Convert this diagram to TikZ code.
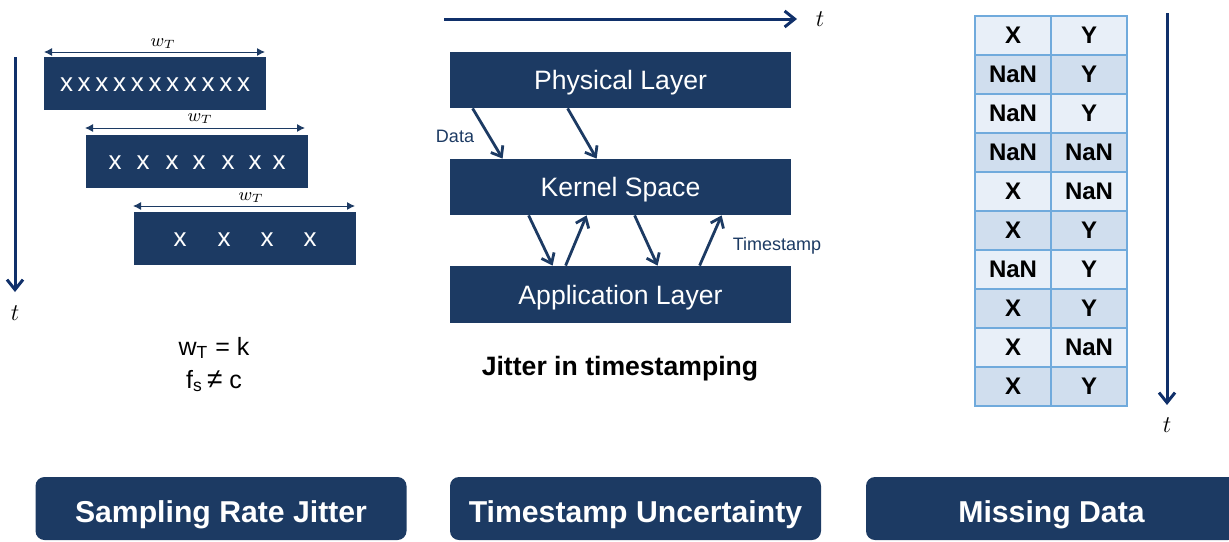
\documentclass[tikz,border=0pt]{standalone}
\usepackage{fontspec}
\setmainfont{Liberation Sans}
\usetikzlibrary{arrows.meta,calc}
\definecolor{navy}{HTML}{1C3A63}
\definecolor{axisnavy}{HTML}{10306A}
\definecolor{celllight}{HTML}{E8EFF8}
\definecolor{celldark}{HTML}{D0DEEE}
\definecolor{cellline}{HTML}{70AADC}
\tikzset{
  navybox/.style={fill=navy, draw=none, inner sep=0pt, text=white},
  layerbox/.style={navybox, minimum width=170.5pt, minimum height=28pt, text height=9.5pt, text depth=0pt, font=\fontsize{13.3}{15}\selectfont},
  samplebox/.style={navybox, minimum width=111pt, minimum height=26.5pt},
  xmark/.style={text=white, inner sep=0pt, font=\fontsize{13}{14}\selectfont},
  wtarrow/.style={navy, line width=0.5pt, {Latex[length=4pt,width=4pt]}-{Latex[length=4pt,width=4pt]}},
  wtlabel/.style={inner sep=0pt, font=\fontsize{9}{10}\selectfont},
  timeaxis/.style={axisnavy, line width=1.5pt, -{Straight Barb[length=5pt,width=8pt,line width=1.5pt]}},
  flow/.style={navy, line width=1.4pt, -{Straight Barb[length=4.5pt,width=7pt,line width=1.4pt]}},
  flowlabel/.style={navy, inner sep=0pt, font=\fontsize{9}{10}\selectfont},
  tlabel/.style={inner sep=0pt, font=\fontsize{11.5}{12}\selectfont},
  cell/.style={draw=cellline, line width=0.7pt, minimum width=38pt, minimum height=19.5pt, inner sep=0pt, font=\bfseries\fontsize{12}{13}\selectfont},
  titlebox/.style={navybox, rounded corners=4.5pt, minimum width=185.5pt, minimum height=31.5pt, text height=14.3pt, text depth=0pt, font=\bfseries\fontsize{15.1}{17}\selectfont}
}
\begin{document}
\begin{tikzpicture}[x=0.5pt,y=-0.5pt]
\useasboundingbox (0,0) rectangle (1229,541);

% ---------- Sampling rate jitter ----------
\coordinate (ltop) at (15,57);
\coordinate (lbot) at (15,292);
\draw[timeaxis] (ltop) -- (lbot);
\node[tlabel] (lt) at (15,313) {$t$};

\node[samplebox] (s1) at (155,83.5) {};
\node[samplebox] (s2) at (197,161) {};
\node[samplebox] (s3) at (245,238.5) {};

\coordinate (w1a) at (44,52);  \coordinate (w1b) at (265,52);
\coordinate (w2a) at (85,128); \coordinate (w2b) at (305,128);
\coordinate (w3a) at (133,206); \coordinate (w3b) at (355,206);
\draw[wtarrow] (w1a) -- (w1b);
\draw[wtarrow] (w2a) -- (w2b);
\draw[wtarrow] (w3a) -- (w3b);
\node[wtlabel] (wl1) at (163,44) {$w_T$};
\node[wtlabel] (wl2) at (200,119) {$w_T$};
\node[wtlabel] (wl3) at (251,198) {$w_T$};

% samples inside each window
\foreach \i in {0,...,10} \node[xmark] (ax\i) at ({66.5+17.7*\i},84.5) {x};
\foreach \xx [count=\i] in {115,143,172,199,228,255,279} \node[xmark] (bx\i) at (\xx,162.5) {x};
\foreach \xx [count=\i] in {180,224,267,310} \node[xmark] (cx\i) at (\xx,239.5) {x};

\node[inner sep=0pt, font=\fontsize{12.5}{14}\selectfont] (eq1) at (214,348) {w\textsubscript{T} = k};
\node[inner sep=0pt, font=\fontsize{12.5}{14}\selectfont] (eq2) at (214,381) {f\textsubscript{s}\,{\fontsize{14}{14}\selectfont ≠} c};

% ---------- Timestamp uncertainty ----------
\coordinate (mtleft) at (444,19);
\coordinate (mtright) at (797,19);
\draw[timeaxis] (mtleft) -- (mtright);
\node[tlabel] (mt) at (820,19) {$t$};

\node[layerbox] (phys) at (620.5,80) {Physical Layer};
\node[layerbox] (kern) at (620.5,187) {Kernel Space};
\node[layerbox, minimum height=28.5pt] (app) at (620.5,294.5) {Application Layer};

\draw[flow] ($(phys.south west)+(23,0)$) -- ($(kern.north west)+(53,0)$);
\draw[flow] ($(phys.south west)+(118,0)$) -- ($(kern.north west)+(147,0)$);
\draw[flow] ($(kern.south west)+(79,0)$) -- ($(app.north west)+(103,0)$);
\draw[flow] ($(app.north west)+(116,0)$) -- ($(kern.south west)+(137,0)$);
\draw[flow] ($(kern.south west)+(185,0)$) -- ($(app.north west)+(208,0)$);
\draw[flow] ($(app.north west)+(250,0)$) -- ($(kern.south west)+(272,0)$);

\node[flowlabel] (datalbl) at (455,136) {Data};
\node[flowlabel] (tslbl) at (777,246) {Timestamp};

\node[inner sep=0pt, text height=9.5pt, text depth=0pt, font=\bfseries\fontsize{13.3}{15}\selectfont] (jit) at (620,366) {Jitter in timestamping};

% ---------- Missing data ----------
\foreach \a/\b [count=\r] in {X/Y, NaN/Y, NaN/Y, NaN/NaN, X/NaN, X/Y, NaN/Y, X/Y, X/NaN, X/Y}{
  \pgfmathsetmacro{\yy}{16+39*(\r-0.5)}
  \ifodd\r \def\cellfill{celllight}\else \def\cellfill{celldark}\fi
  \node[cell, fill=\cellfill] (ca\r) at (1013,\yy) {\a};
  \node[cell, fill=\cellfill] (cb\r) at (1089,\yy) {\b};
}
\coordinate (rtop) at (1167,13);
\coordinate (rbot) at (1167,405);
\draw[timeaxis] (rtop) -- (rbot);
\node[tlabel] (rt) at (1167,425) {$t$};

% ---------- Titles ----------
\node[titlebox] (t1) at (221,508.5) {Sampling Rate Jitter};
\node[titlebox] (t2) at (635.5,508.5) {Timestamp Uncertainty};
\node[titlebox] (t3) at (1051.5,508.5) {Missing Data};
\end{tikzpicture}
\end{document}
